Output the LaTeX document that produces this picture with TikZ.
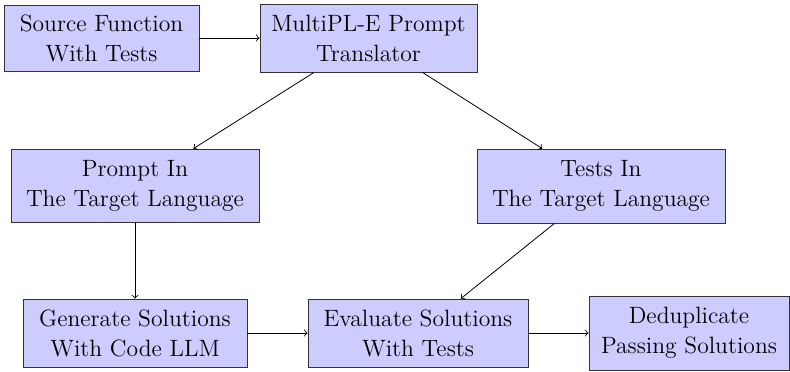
\documentclass[tikz,border=0pt]{standalone}
\usepackage{fontspec}
\begin{document}
\begin{tikzpicture}[x=0.5pt,y=-0.5pt,
  stage/.style={draw=black!80, fill=blue!20, align=center, inner sep=0pt,
    font=\fontsize{11.8}{15}\selectfont},
  link/.style={->, black}]
\useasboundingbox (0,0) rectangle (790,371);
\node[stage, minimum width=97.5pt, minimum height=33pt] (src) at (101.5,38) {Source Function\\With Tests};
\node[stage, minimum width=108.5pt, minimum height=34pt] (mp) at (368.5,38) {MultiPL-E Prompt\\Translator};
\node[stage, minimum width=124pt, minimum height=36.5pt] (prompt) at (135,185.5) {Prompt In\\The Target Language};
\node[stage, minimum width=124pt, minimum height=37pt] (tests) at (601,186) {Tests In\\The Target Language};
\node[stage, minimum width=112pt, minimum height=34pt] (gen) at (135,333) {Generate Solutions\\With Code LLM};
\node[stage, minimum width=110pt, minimum height=34pt] (eval) at (418,333) {Evaluate Solutions\\With Tests};
\node[stage, minimum width=100pt, minimum height=37pt] (dedup) at (689,333) {Deduplicate\\Passing Solutions};
\draw[link] (src) -- (mp);
\draw[link] (mp) -- (prompt);
\draw[link] (mp) -- (tests);
\draw[link] (prompt) -- (gen);
\draw[link] (tests) -- (eval);
\draw[link] (gen) -- (eval);
\draw[link] (eval) -- (dedup);
\end{tikzpicture}
\end{document}
